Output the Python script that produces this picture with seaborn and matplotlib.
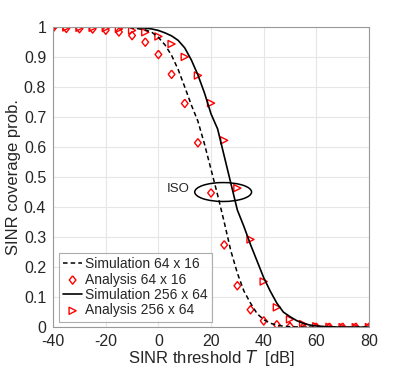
import numpy as np
import pandas as pd
import matplotlib
matplotlib.use('Agg')
import matplotlib.pyplot as plt
from matplotlib.patches import Ellipse
import seaborn as sns

# analysis points (every 5 dB)
t_ana = [-40, -35, -30, -25, -20, -15, -10, -5, 0, 5, 10, 15, 20, 25, 30,
         35, 40, 45, 50, 55, 60, 65, 70, 75, 80]
ana_64 = [0.997, 0.995, 0.994, 0.993, 0.989, 0.983, 0.971, 0.949, 0.908, 0.842,
          0.745, 0.614, 0.447, 0.274, 0.138, 0.058, 0.021, 0.008, 0.002, 0.0,
          0.0, 0.0, 0.0, 0.0, 0.0]
ana_256 = [0.998, 0.998, 0.997, 0.997, 0.996, 0.993, 0.988, 0.982, 0.968, 0.943,
           0.900, 0.838, 0.746, 0.622, 0.463, 0.292, 0.152, 0.066, 0.026, 0.010,
           0.003, 0.001, 0.0, 0.0, 0.0]

# simulation curves
t_sim = [-40, -35, -30, -25, -20, -15, -10, -5, -2.5, 0, 2.5, 5, 7.5, 10, 12.5,
         15, 17.5, 20, 22.5, 25, 27.5, 30, 32.5, 35, 37.5, 40, 42.5, 45, 47.5,
         50, 52.5, 55, 57.5, 60, 65, 70, 75, 80]
sim_64 = [1.0, 1.0, 1.0, 1.0, 1.0, 0.999, 0.997, 0.99, 0.982, 0.965, 0.94, 0.905,
          0.858, 0.80, 0.74, 0.686, 0.61, 0.525, 0.44, 0.35, 0.255, 0.18, 0.12,
          0.08, 0.045, 0.025, 0.013, 0.007, 0.003, 0.0015, 0.0008, 0.0003, 0.0001,
          0.0, 0.0, 0.0, 0.0, 0.0]
sim_256 = [1.0, 1.0, 1.0, 1.0, 1.0, 1.0, 0.999, 0.996, 0.993, 0.988, 0.98, 0.97,
           0.955, 0.93, 0.89, 0.84, 0.78, 0.71, 0.66, 0.57, 0.48, 0.39, 0.335,
           0.275, 0.22, 0.165, 0.12, 0.08, 0.05, 0.035, 0.022, 0.013, 0.007,
           0.004, 0.001, 0.0, 0.0, 0.0]

sim = pd.DataFrame({'T': t_sim, 's64': sim_64, 's256': sim_256})
ana = pd.DataFrame({'T': t_ana, 'a64': ana_64, 'a256': ana_256})

sns.set_style('whitegrid')
plt.rcParams['font.family'] = ['Liberation Sans', 'DejaVu Sans']
plt.rcParams['axes.unicode_minus'] = False

# matlab-like diamond (a bit taller than wide)
diamond = [(0, 1), (0.8, 0), (0, -1), (-0.8, 0), (0, 1)]

fig = plt.figure(figsize=(4.09, 3.68), dpi=100)
ax = fig.add_axes([0.130, 0.111, 0.772, 0.816])

sns.lineplot(data=sim, x='T', y='s64', ax=ax, color='black', lw=1.1,
             linestyle=(0, (3, 2)), label='Simulation 64 x 16')
sns.scatterplot(data=ana, x='T', y='a64', ax=ax, marker=diamond, s=36,
                facecolor='none', edgecolor='red', linewidth=1.0,
                label='Analysis 64 x 16')
sns.lineplot(data=sim, x='T', y='s256', ax=ax, color='black', lw=1.2,
             label='Simulation 256 x 64')
sns.scatterplot(data=ana, x='T', y='a256', ax=ax, marker='>', s=26,
                facecolor='none', edgecolor='red', linewidth=1.0,
                label='Analysis 256 x 64')

# ISO ellipse
ax.add_patch(Ellipse((24.6, 0.45), 21.6, 0.063, fill=False, color='black', lw=1.1))
ax.text(12, 0.46, 'ISO', ha='right', va='center', fontsize=9.5)

ax.set_xlim(-40, 80)
ax.set_ylim(0, 1)
ax.set_xticks(range(-40, 81, 20))
ax.set_yticks(np.arange(0, 1.01, 0.1))
ax.set_yticklabels(['0', '0.1', '0.2', '0.3', '0.4', '0.5', '0.6', '0.7', '0.8', '0.9', '1'])
ax.tick_params(labelsize=11.5, length=0)
ax.tick_params(axis='x', pad=5)
ax.tick_params(axis='y', pad=5)
ax.grid(color='#e6e6e6', lw=0.8)
for s in ax.spines.values():
    s.set_color('#999999')
    s.set_linewidth(0.8)

ax.set_xlabel('SINR threshold $T$  [dB]', fontsize=12, labelpad=-0.5)
ax.set_ylabel('SINR coverage prob.', fontsize=12, labelpad=2)

leg = ax.legend(loc='lower left', fontsize=10, frameon=True, fancybox=False,
                handlelength=1.4, handletextpad=0.2, borderpad=0.3,
                labelspacing=0.1, borderaxespad=0.4)
leg.get_frame().set_edgecolor('#999999')
leg.get_frame().set_linewidth(0.8)

fig.savefig('out.png', dpi=100)
